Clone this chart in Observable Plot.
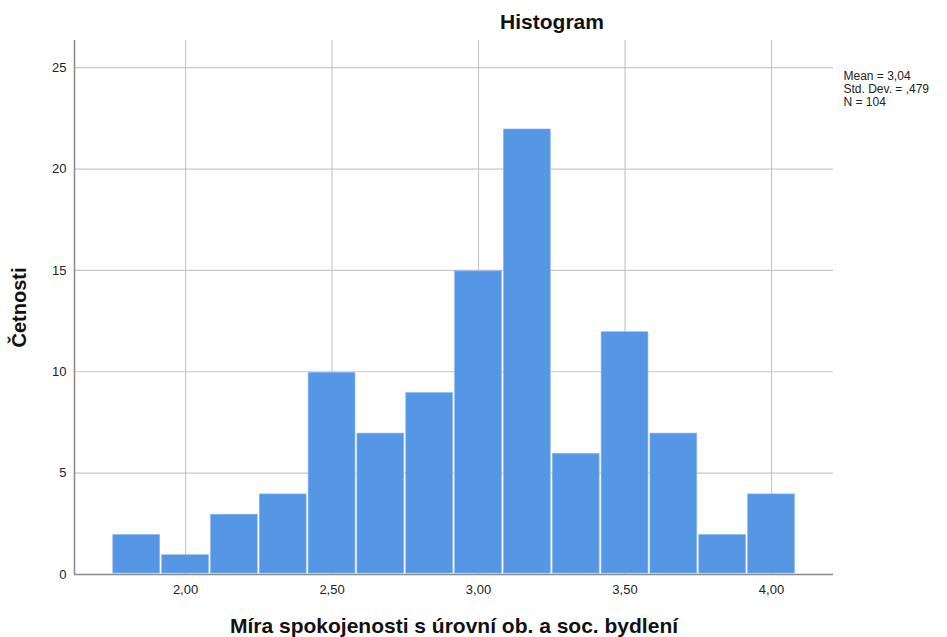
<!DOCTYPE html>
<html>
<head>
<meta charset="utf-8">
<script src="https://cdn.jsdelivr.net/npm/d3@7"></script>
<script src="https://cdn.jsdelivr.net/npm/@observablehq/plot@0.6"></script>
<style>
body { margin: 0; background: #fff; font-family: "Liberation Sans", Arial, sans-serif; }
</style>
</head>
<body>
<div id="chart"></div>
<script>
const binStarts = [1.75, 1.9167, 2.0833, 2.25, 2.4167, 2.5833, 2.75, 2.9167, 3.0833, 3.25, 3.4167, 3.5833, 3.75, 3.9167];
const binWidth = 1 / 6;
const counts = [2, 1, 3, 4, 10, 7, 9, 15, 22, 6, 12, 7, 2, 4];
const xTicks = [2.0, 2.5, 3.0, 3.5, 4.0];
const yTicks = [0, 5, 10, 15, 20, 25];
const statsLines = ["Mean = 3,04", "Std. Dev. = ,479", "N = 104"];
const titleText = "Histogram";
const xLabel = "Míra spokojenosti s úrovní ob. a soc. bydlení";
const yLabel = "Četnosti";

const bins = binStarts.map((s, i) => ({x1: s, x2: s + binWidth, n: counts[i]}));
const fmt = d => d.toFixed(2).replace(".", ",");

const xDomain = [1.621, 4.2116];
const yDomain = [0, 26.34];

const plot = Plot.plot({
  width: 947,
  height: 637,
  marginLeft: 74,
  marginTop: 40,
  marginRight: 114,
  marginBottom: 63,
  style: {fontFamily: "Liberation Sans, Arial, sans-serif", fontSize: "13px", color: "#222", background: "#fff"},
  x: {domain: xDomain, ticks: xTicks, tickFormat: fmt, tickSize: 0, tickPadding: 10, label: null},
  y: {domain: yDomain, ticks: yTicks, tickSize: 0, tickPadding: 8, label: null},
  marks: [
    Plot.ruleY(yTicks, {stroke: "#c8c8c8", strokeWidth: 1.2}),
    Plot.ruleX(xTicks, {stroke: "#c8c8c8", strokeWidth: 1.2}),
    Plot.rectY(bins, {x1: "x1", x2: "x2", y: "n", fill: "#5596e5", stroke: "#8ab6ee", strokeWidth: 0.6, inset: 1}),
    Plot.ruleX([xDomain[0]], {stroke: "#888", strokeWidth: 1.5}),
    Plot.ruleY([0], {stroke: "#888", strokeWidth: 1.5}),
    Plot.text([titleText], {frameAnchor: "top", dx: 98, dy: -26, fontSize: 21, fontWeight: "bold", fill: "#111"}),
    Plot.text([xLabel], {frameAnchor: "bottom", dy: 58, fontSize: 21, fontWeight: "bold", fill: "#111"}),
    Plot.text([yLabel], {frameAnchor: "left", dx: -55, rotate: -90, textAnchor: "middle", fontSize: 20, fontWeight: "bold", fill: "#111"}),
    Plot.text([statsLines.join("\n")], {frameAnchor: "top-right", dx: 10, dy: 30, textAnchor: "start", lineHeight: 1.1, fontSize: 12, fill: "#222"}),
    Plot.axisX({ticks: xTicks, tickFormat: fmt, tickSize: 0, tickPadding: 10, fontSize: 13, label: null}),
    Plot.axisY({ticks: yTicks, tickSize: 0, tickPadding: 8, fontSize: 13, label: null})
  ]
});
document.getElementById("chart").appendChild(plot);
</script>
</body>
</html>
